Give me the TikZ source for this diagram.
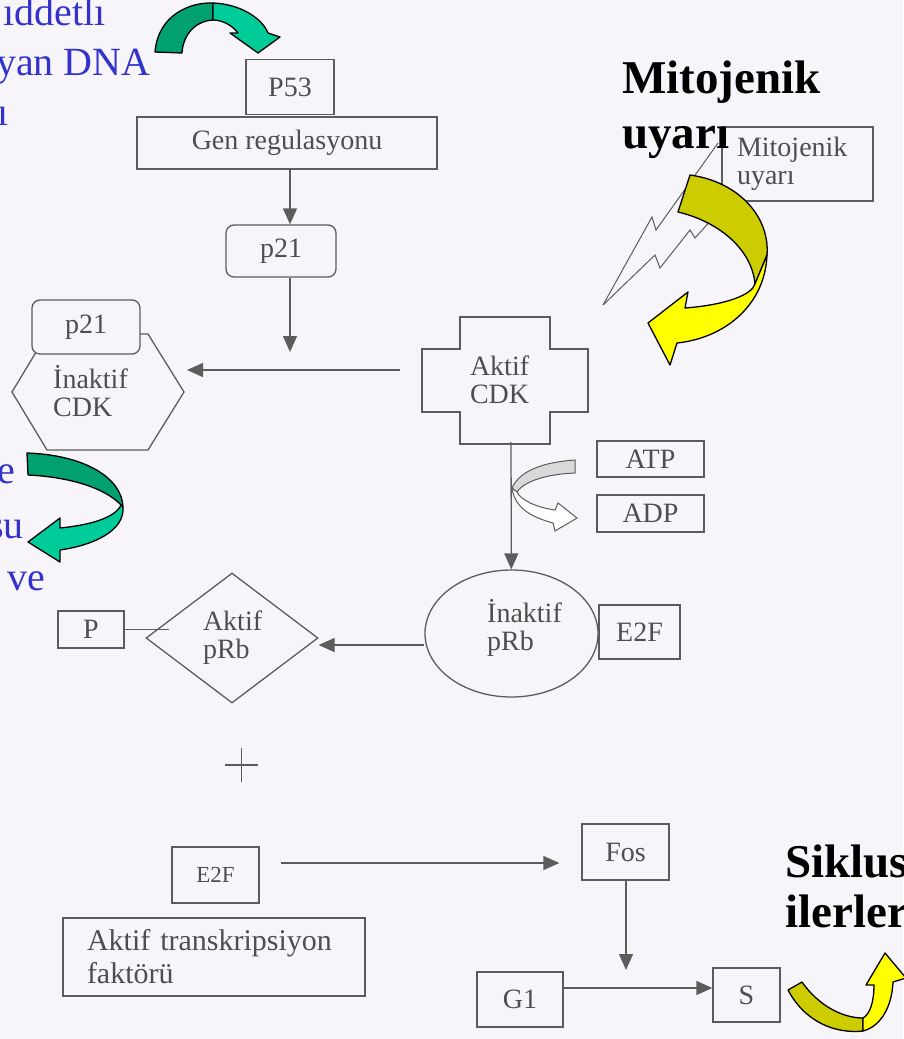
\documentclass[tikz,border=0pt]{standalone}
\usepackage{fontspec}
\setmainfont{Liberation Serif}
\usetikzlibrary{arrows.meta,shapes.geometric}

\definecolor{bg}{RGB}{247,245,250}
\definecolor{lgray}{RGB}{92,92,92}
\definecolor{tgray}{RGB}{78,78,78}
\definecolor{dnablue}{RGB}{51,51,204}
\definecolor{grdark}{RGB}{0,160,112}
\definecolor{grlight}{RGB}{0,204,153}
\definecolor{yedark}{RGB}{204,204,0}
\definecolor{yelight}{RGB}{255,255,0}

\newcommand\gtext{\fontsize{28}{28}\selectfont}
\newcommand\btext{\fontsize{40}{50}\selectfont}
\newcommand\htext{\fontsize{47}{55}\selectfont\bfseries}

\tikzset{
  line/.style={draw=lgray, line width=1.3pt},
  arr/.style={line, -{Triangle[length=16pt,width=14pt]}},
  box/.style={line, fill=bg, text=tgray, font=\gtext, inner sep=0pt},
  ribbon/.style={draw=black, line width=1.3pt, line join=round},
  bluetxt/.style={text=dnablue, font=\btext, anchor=base west, inner sep=0pt},
  boldtxt/.style={text=black, font=\htext, anchor=base west, inner sep=0pt, align=left},
}

\begin{document}
\begin{tikzpicture}[x=1pt, y=-1pt]
  % Page
  \fill[bg] (0,0) rectangle (903,1039);
  \useasboundingbox (0,0) rectangle (903,1039);

  % Blue notes, cut at the left margin
  \node[bluetxt] (dna1) at (3,25) {ıddetlı};
  \node[bluetxt] (dna2) at (-4,75) {yan DNA};
  \node[bluetxt] (dna3) at (-3,125) {ı};
  \node[bluetxt] (note1) at (-3,483) {e};
  \node[bluetxt] (note2) at (-12,538) {su};
  \node[bluetxt] (note3) at (7,590) {ve};

  % Green arrow at the top
  \fill[grdark, ribbon] (155,52) .. controls (158,15) and (190,2) .. (213,3)
    -- (213,20) .. controls (195,21) and (183,35) .. (182,53) -- cycle;
  \fill[grlight, ribbon] (213,3) .. controls (240,4) and (262,18) .. (268,33)
    -- (280,37) -- (258,53) -- (230,33) -- (238,33)
    .. controls (232,25) and (222,20) .. (213,20) -- cycle;

  % P53 and gene regulation
  \node[box, minimum width=88pt, minimum height=55pt] (p53) at (290,87) {P53};
  \node[box, minimum width=300pt, minimum height=52pt] (gen) at (287,143) {Gen regulasyonu};
  \node[box, rounded corners=8pt, minimum width=110pt, minimum height=52pt] (p21) at (281,251) {p21};
  \coordinate (colA) at (290,0);
  \coordinate (inh) at (300,370);
  \draw[arr] (gen.south -| colA) -- (p21.north -| colA);
  \draw[arr, shorten >=18pt] (p21.south -| colA) -- (colA |- inh);

  % Inactive CDK (hexagon) with p21
  \draw[line, fill=bg] (12,392) -- (47,334) -- (148,334) -- (184,392)
    -- (148,450) -- (47,450) -- cycle;
  \coordinate (hexe) at (184,392);
  \node[box, rounded corners=8pt, minimum width=108pt, minimum height=54pt] (p21b) at (86,327) {p21};
  \node[text=tgray, font=\gtext, align=left, anchor=west, inner sep=0pt] (icdk) at (53,391) {İnaktif\\CDK};

  % Active CDK (cross)
  \node[text=tgray, font=\gtext, align=left, text width=70pt, inner sep=0pt] (acdk) at (505,380) {Aktif\\CDK};
  \draw[line] (acdk.center) ++(-45,-63) -- ++(90,0) -- ++(0,32) -- ++(38,0) -- ++(0,63)
    -- ++(-38,0) -- ++(0,32) -- ++(-90,0) -- ++(0,-32) -- ++(-38,0) -- ++(0,-63)
    -- ++(38,0) -- cycle;
  \coordinate (cdkw) at (422,378);
  \coordinate (cdks) at (511,442);
  \draw[arr, shorten <=22pt, shorten >=3pt] (cdkw |- inh) -- (hexe |- inh);

  % Mitogenic signal
  \draw[lgray, line width=1pt, line join=miter] (603,305) -- (652,217) -- (656,230) -- (718,143);
  \draw[lgray, line width=1pt, line join=miter] (603,305) -- (655,255) -- (660,268) -- (690,230)
    -- (695,238) -- (722,208);
  \node[box, align=left, text width=121pt, inner xsep=15pt, minimum height=74pt] (mito) at (797.5,164) {Mitojenik\\uyarı};
  \node[boldtxt] (mitot) at (622,93) {Mitojenik};
  \node[boldtxt] (uyari) at (622,148) {uyarı};
  \fill[yedark, ribbon] (690,175) .. controls (740,182) and (770,218) .. (767,255)
    -- (755,284) .. controls (752,250) and (720,222) .. (678,212) -- cycle;
  \fill[yelight, ribbon] (767,255) .. controls (765,305) and (725,338) .. (677,343)
    -- (670,365) -- (648,323) -- (688,292) -- (685,308)
    .. controls (725,305) and (752,295) .. (755,284) -- cycle;

  % ATP -> ADP
  \node[box, minimum width=107pt, minimum height=36pt] (atp) at (650.5,459) {ATP};
  \node[box, minimum width=107pt, minimum height=37pt] (adp) at (650.5,513.5) {ADP};
  \node[ellipse, line, fill=bg, minimum width=173pt, minimum height=127pt, inner sep=0pt] (iprb) at (511.5,633.5) {};
  \draw[arr] (cdks) -- (iprb);
  \filldraw[lgray, fill=gray!30, line width=1pt] (575,460) .. controls (545,462) and (520,470) .. (512,488)
    -- (517,492) .. controls (525,480) and (550,474) .. (575,473) -- cycle;
  \filldraw[lgray, fill=white, line width=1pt, line join=miter] (512,488) .. controls (515,510) and (535,518) .. (553,523)
    -- (555,531) -- (577,518) -- (558,503) -- (555,510)
    .. controls (535,507) and (521,500) .. (517,492) -- cycle;

  % pRb
  \node[text=tgray, font=\gtext, align=left, anchor=west, inner sep=0pt] (iprbt) at (487,628) {İnaktif\\pRb};
  \node[box, minimum width=81pt, minimum height=54pt] (e2fa) at (639.5,632) {E2F};
  \node[diamond, line, fill=bg, text=tgray, font=\gtext, align=left, text width=58pt,
    minimum width=172pt, minimum height=130pt, inner sep=0pt] (aprb) at (232,638) {Aktif\\pRb};
  \coordinate (dy) at (400,645);
  \draw[arr] (iprb.west |- dy) -- (aprb.east |- dy);
  \node[box, minimum width=66pt, minimum height=37pt] (pbox) at (91,629.5) {P};
  \draw[line] (pbox.east) -- ++(44,0);

  % Plus sign
  \draw[line] (225,765) -- (258,765);
  \draw[line] (241.5,748) -- (241.5,782);

  % Free E2F and the cycle
  \node[box, font=\fontsize{23}{24}\selectfont, minimum width=87pt, minimum height=56pt] (e2fb) at (215.5,875) {E2F};
  \node[box, font=\fontsize{30}{33}\selectfont, align=left, text width=254pt, inner xsep=24pt,
    minimum height=78pt] (atf) at (214,957) {Aktif transkripsiyon\\faktörü};
  \node[box, minimum width=87pt, minimum height=56pt] (fos) at (625.5,852) {Fos};
  \node[box, minimum width=86pt, minimum height=55pt] (g1) at (520,999.5) {G1};
  \node[box, minimum width=67pt, minimum height=54pt] (sph) at (746.5,995) {S};
  \coordinate (efy) at (420,863);
  \coordinate (gs) at (626,988);
  \draw[arr, shorten <=21pt, shorten >=22pt] (e2fb.east |- efy) -- (fos.west |- efy);
  \draw[arr, shorten >=18pt] (fos.south -| gs) -- (gs);
  \draw[arr] (g1.east |- gs) -- (sph.west |- gs);

  % Green arrow on the left
  \fill[grdark, ribbon] (27,453) .. controls (85,455) and (122,478) .. (123,507)
    -- (121,505) .. controls (105,488) and (70,477) .. (28,475) -- cycle;
  \fill[grlight, ribbon] (123,507) .. controls (125,530) and (95,545) .. (60,550)
    -- (60,562) -- (28,542) -- (60,518) -- (60,528)
    .. controls (90,525) and (115,518) .. (121,505) -- cycle;

  % Cycle goes on
  \node[boldtxt] (sik1) at (785,877) {Siklus};
  \node[boldtxt] (sik2) at (785,927) {ilerler};
  \fill[yedark, ribbon] (788,990) .. controls (805,1022) and (835,1034) .. (863,1031)
    -- (863,1018) .. controls (842,1018) and (818,1005) .. (802,982) -- cycle;
  \fill[yelight, ribbon] (863,1031) .. controls (882,1026) and (892,1005) .. (893,982)
    -- (906,978) -- (885,953) -- (866,985) -- (874,985)
    .. controls (874,1002) and (870,1014) .. (863,1018) -- cycle;
\end{tikzpicture}
\end{document}
